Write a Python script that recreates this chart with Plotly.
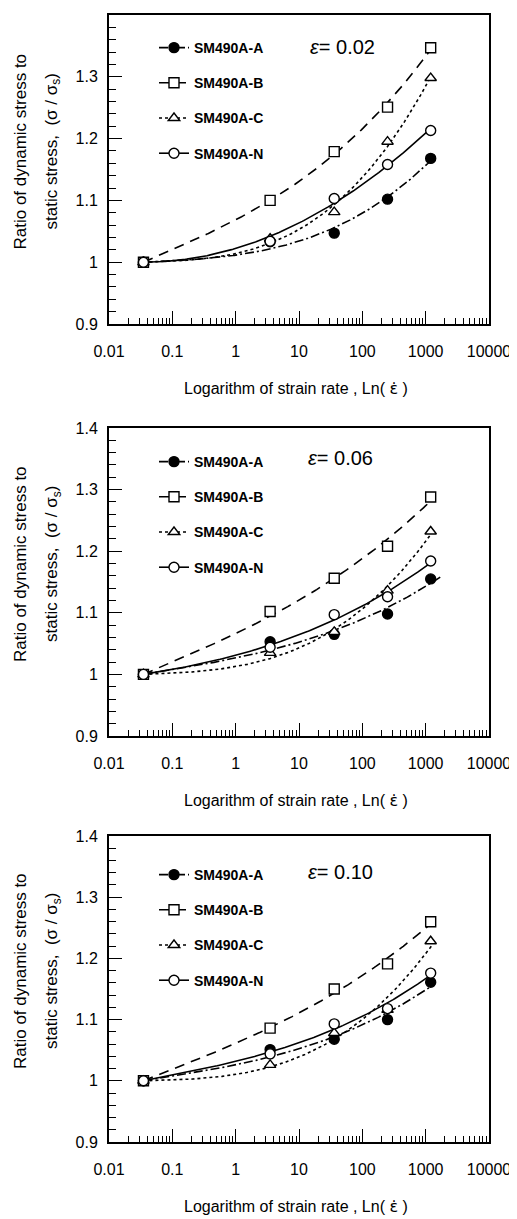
import itertools
import numpy as np
import plotly.graph_objects as go

# ---------------- data ----------------
STRAIN_RATE = [0.035, 3.5, 36, 250, 1200]
SERIES = ["SM490A-A", "SM490A-B", "SM490A-C", "SM490A-N"]
STRAIN_LABELS = ["0.02", "0.06", "0.10"]

E002_A = [1.000, 1.033, 1.047, 1.102, 1.168]
E002_B = [1.000, 1.100, 1.179, 1.251, 1.347]
E002_C = [1.000, 1.038, 1.081, 1.195, 1.298]
E002_N = [1.000, 1.034, 1.103, 1.158, 1.213]

E006_A = [1.000, 1.053, 1.065, 1.098, 1.155]
E006_B = [1.000, 1.102, 1.156, 1.208, 1.288]
E006_C = [1.000, 1.035, 1.069, 1.136, 1.232]
E006_N = [1.000, 1.044, 1.097, 1.126, 1.184]

E010_A = [1.000, 1.051, 1.068, 1.100, 1.161]
E010_B = [1.000, 1.086, 1.150, 1.191, 1.260]
E010_C = [1.000, 1.026, 1.078, 1.116, 1.228]
E010_N = [1.000, 1.044, 1.093, 1.118, 1.176]

PANELS = [
    [E002_A, E002_B, E002_C, E002_N],
    [E006_A, E006_B, E006_C, E006_N],
    [E010_A, E010_B, E010_C, E010_N],
]

X_TICKS = [0.01, 0.1, 1, 10, 100, 1000, 10000]
X_TICK_TEXT = ["0.01", "0.1", "1", "10", "100", "1000", "10000"]
Y_TICKS = [0.9, 1.0, 1.1, 1.2, 1.3, 1.4]
Y_TICK_TEXT = ["0.9", "1", "1.1", "1.2", "1.3", "1.4"]

# ---------------- styles ----------------
FONT = "Liberation Sans, Arial, Helvetica, sans-serif"
DASHES = ["9px,3px,2px,3px", "10px,7px", "dot", "solid"]
SYMBOLS = ["circle", "square", "triangle-up", "circle"]
FILLS = ["black", "white", "white", "white"]
FIT_DEG = 3
FIT_XMAX = [[1200, 1200, 1200, 1200], [1800, 1200, 1200, 1200], [1300, 1200, 1300, 1200]]

OFF = 8                      # page body margin in the browser
W, H = 517 - OFF, 1219 - OFF
L, R, T, B = 109 - OFF, 28, 15 - OFF, 77
PLOT_H = H - T - B
PLOT_W = W - L - R
PANEL_PX = [(15, 324), (428, 736), (836, 1142)]  # top, bottom rows (page pixels)
LEGEND_TOP_PX = [32, 446, 859]
EPS_PX = [(342, 47), (340, 458), (340, 872)]


def py(p):
    return (H - B - (p - OFF)) / PLOT_H


def px(p):
    return (p - OFF - L) / PLOT_W


def fit_curve(x, y, deg, xmax):
    """Convex, non-negative least-squares polynomial in log10(x), pinned at the first point."""
    lx = np.log10(np.asarray(x, float))
    u = lx - lx[0]
    yy = np.asarray(y, float) - y[0]
    best, best_res = None, np.inf
    for mask in itertools.product([0, 1], repeat=deg):
        ks = [k + 1 for k, m in enumerate(mask) if m]
        if not ks:
            continue
        A = np.vstack([u ** k for k in ks]).T
        coef, *_ = np.linalg.lstsq(A, yy, rcond=None)
        if np.any(coef < 0):
            continue
        res = np.sum((A @ coef - yy) ** 2)
        if res < best_res:
            best_res, best = res, dict(zip(ks, coef))
    ug = np.linspace(0, np.log10(xmax) - lx[0], 200)
    yg = y[0] + sum(c * ug ** k for k, c in best.items())
    return 10 ** (ug + lx[0]), yg


fig = go.Figure()

for p, panel in enumerate(PANELS):
    ax = "" if p == 0 else str(p + 1)
    xa, ya = "x" + ax, "y" + ax
    leg = "legend" + ax
    # fitted curves
    for s, vals in enumerate(panel):
        fx, fy = fit_curve(STRAIN_RATE, vals, FIT_DEG, FIT_XMAX[p][s])
        fig.add_trace(go.Scatter(x=fx, y=fy, mode="lines", xaxis=xa, yaxis=ya,
                                 line=dict(color="black", width=1.6, dash=DASHES[s]),
                                 showlegend=False, hoverinfo="skip"))
    # data markers
    for s, vals in enumerate(panel):
        fig.add_trace(go.Scatter(x=STRAIN_RATE, y=vals, mode="markers", xaxis=xa, yaxis=ya,
                                 marker=dict(symbol=SYMBOLS[s], size=10, color=FILLS[s],
                                             line=dict(color="black", width=1.4)),
                                 showlegend=False, name=SERIES[s]))
    # legend entries
    for s in range(4):
        fig.add_trace(go.Scatter(x=[None], y=[None], mode="lines+markers", xaxis=xa, yaxis=ya,
                                 name=SERIES[s], legend=leg, legendgroup=f"g{p}{s}",
                                 line=dict(color="black", width=1.6, dash=DASHES[s]),
                                 marker=dict(symbol=SYMBOLS[s], size=10, color=FILLS[s],
                                             line=dict(color="black", width=1.4))))

    top, bot = PANEL_PX[p]
    dom = [py(bot), py(top)]
    axis_common = dict(showline=True, linecolor="black", linewidth=2, mirror=True,
                       ticks="inside", tickcolor="black", tickwidth=1.3, ticklen=13,
                       showgrid=False, zeroline=False,
                       tickfont=dict(family=FONT, size=16, color="black"))
    fig.update_layout(**{
        "xaxis" + ax: dict(type="log", range=[-2, 4], domain=[0, 1], anchor=ya,
                           tickmode="array", tickvals=X_TICKS, ticktext=X_TICK_TEXT,
                           ticklabelstandoff=12,
                           minor=dict(ticks="inside", ticklen=6, tickcolor="black",
                                      tickwidth=1.1, dtick="D1", showgrid=False),
                           **axis_common),
        "yaxis" + ax: dict(range=[0.9, 1.4], domain=dom, anchor=xa,
                           tickmode="array", tickvals=Y_TICKS, ticktext=Y_TICK_TEXT,
                           ticklabelstandoff=6,
                           minor=dict(ticks="inside", ticklen=7, tickcolor="black",
                                      tickwidth=1.1, dtick=0.02, showgrid=False),
                           **axis_common),
        leg: dict(x=px(154), y=py(LEGEND_TOP_PX[p]), xanchor="left", yanchor="top",
                  bgcolor="rgba(0,0,0,0)", borderwidth=0, tracegroupgap=14,
                  font=dict(family=FONT, size=14, color="black", weight="bold")),
    })

    # epsilon label
    ex, ey = EPS_PX[p]
    fig.add_annotation(x=px(ex), y=py(ey), xref="paper", yref="paper",
                       xanchor="center", yanchor="middle",
                       text=f"<i>ε</i>= {STRAIN_LABELS[p]}", showarrow=False,
                       font=dict(family=FONT, size=20, color="black"))
    # y title (two lines)
    mid = (top + bot) / 2 - 18
    fig.add_annotation(x=px(20), y=py(mid), xref="paper", yref="paper",
                       xanchor="center", yanchor="middle",
                       text="Ratio of dynamic stress to", textangle=-90, showarrow=False,
                       font=dict(family=FONT, size=17, color="black"))
    fig.add_annotation(x=px(53), y=py(mid), xref="paper", yref="paper",
                       xanchor="center", yanchor="middle",
                       text="static stress,  (σ / σ<sub>s</sub>)", textangle=-90,
                       showarrow=False, font=dict(family=FONT, size=17, color="black"))
    # x title
    fig.add_annotation(x=px(296), y=py(bot + 64), xref="paper", yref="paper",
                       xanchor="center", yanchor="middle",
                       text="Logarithm of strain rate , Ln( "
                            "<span style='font-family:DejaVu Sans'>ε̇</span> )",
                       showarrow=False,
                       font=dict(family=FONT, size=16, color="black"))

fig.update_layout(width=W, height=H, margin=dict(l=L, r=R, t=T, b=B, autoexpand=False),
                  paper_bgcolor="white", plot_bgcolor="white",
                  font=dict(family=FONT, color="black"))

fig.write_html("out.html")
